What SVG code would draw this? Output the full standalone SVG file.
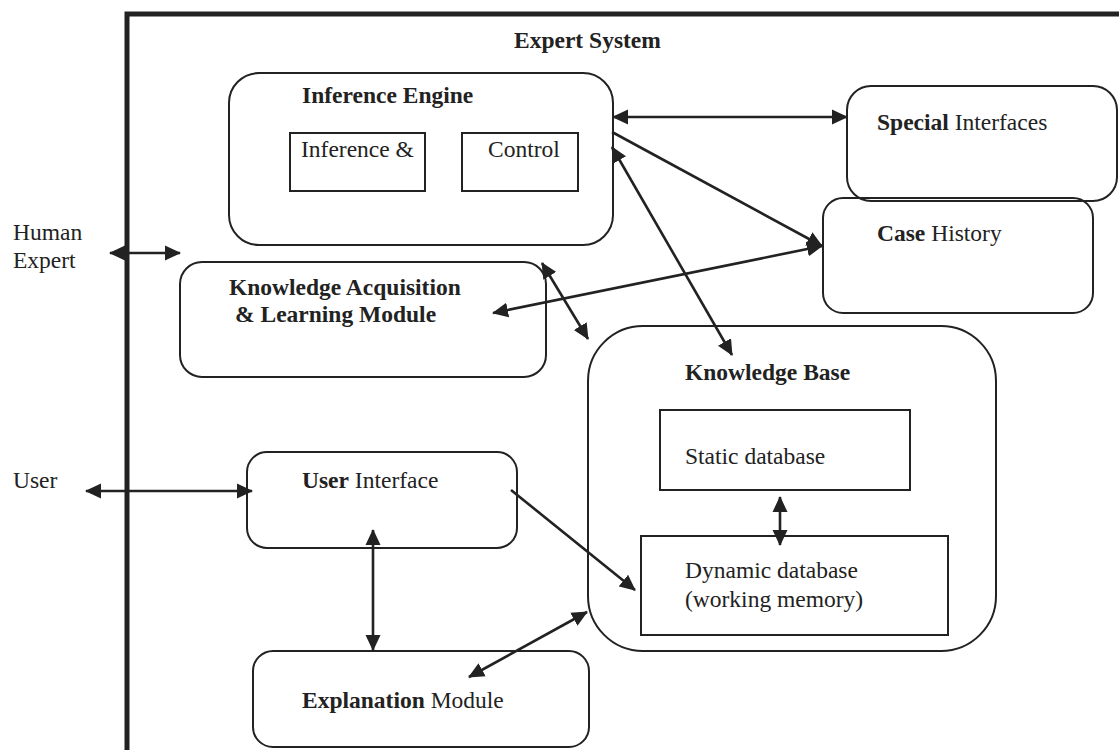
<svg xmlns="http://www.w3.org/2000/svg" width="1119" height="750" viewBox="0 0 1119 750">
<style>
text{font-family:"Liberation Serif","Times New Roman",serif;font-size:23.5px;fill:#222}
.b{font-weight:bold}
.box{fill:none;stroke:#222;stroke-width:2}
.con line{stroke:#222;stroke-width:2.6}
.frame{stroke:#222;stroke-width:5;fill:none}
</style>
<defs>
<marker id="ah" markerUnits="userSpaceOnUse" markerWidth="16" markerHeight="16" refX="15" refY="8" orient="auto-start-reverse" viewBox="0 0 16 16">
<path d="M0,0.5 L16,8 L0,15.5 z" fill="#222"/>
</marker>
</defs>
<rect width="1119" height="750" fill="#fff"/>
<g id="frame">
<path class="frame" d="M127,750 V14 H1119"/>
<text x="514" y="48" class="b">Expert System</text>
</g>
<g id="human-expert"><text x="13" y="240">Human</text><text x="13" y="268">Expert</text></g>
<g id="user"><text x="13" y="488">User</text></g>
<g id="inference-engine">
<rect class="box" x="229" y="73" width="384" height="172" rx="30"/>
<text x="302" y="103" class="b">Inference Engine</text>
<rect class="box" x="290" y="133" width="135" height="58"/>
<text x="301" y="157">Inference &amp;</text>
<rect class="box" x="462" y="133" width="116" height="58"/>
<text x="488" y="157">Control</text>
</g>
<g id="special-interfaces">
<rect class="box" x="847" y="86" width="270" height="115" rx="24"/>
<text x="877" y="130"><tspan class="b">Special</tspan> Interfaces</text>
</g>
<g id="case-history">
<rect class="box" x="823" y="198" width="270" height="115" rx="20"/>
<text x="877" y="241"><tspan class="b">Case</tspan> History</text>
</g>
<g id="knowledge-acquisition">
<rect class="box" x="180" y="262" width="366" height="115" rx="22"/>
<text x="229" y="295" class="b">Knowledge Acquisition</text>
<text x="235" y="322" class="b">&amp; Learning Module</text>
</g>
<g id="knowledge-base">
<rect class="box" x="588" y="326" width="408" height="325" rx="55"/>
<text x="685" y="380" class="b">Knowledge Base</text>
<rect class="box" x="660" y="410" width="250" height="80"/>
<text x="685" y="464">Static database</text>
<rect class="box" x="641" y="536" width="307" height="99"/>
<text x="685" y="578">Dynamic database</text>
<text x="685" y="607">(working memory)</text>
</g>
<g id="user-interface">
<rect class="box" x="247" y="452" width="270" height="96" rx="20"/>
<text x="302" y="488"><tspan class="b">User</tspan> Interface</text>
</g>
<g id="explanation-module">
<rect class="box" x="253" y="651" width="336" height="96" rx="20"/>
<text x="302" y="708"><tspan class="b">Explanation</tspan> Module</text>
</g>
<g id="connectors" class="con">
<line x1="110" y1="253" x2="180" y2="253" marker-start="url(#ah)" marker-end="url(#ah)"/>
<line x1="86" y1="491" x2="252" y2="491" marker-start="url(#ah)" marker-end="url(#ah)"/>
<line x1="613" y1="117" x2="847" y2="117" marker-start="url(#ah)" marker-end="url(#ah)"/>
<line x1="612" y1="132" x2="822" y2="246" marker-end="url(#ah)"/>
<line x1="822" y1="246" x2="493" y2="313" marker-start="url(#ah)" marker-end="url(#ah)"/>
<line x1="612" y1="147" x2="732" y2="355" marker-start="url(#ah)" marker-end="url(#ah)"/>
<line x1="542" y1="263" x2="588" y2="339" marker-start="url(#ah)" marker-end="url(#ah)"/>
<line x1="373" y1="530" x2="373" y2="650" marker-start="url(#ah)" marker-end="url(#ah)"/>
<line x1="511" y1="490" x2="635" y2="590" marker-end="url(#ah)"/>
<line x1="469" y1="677" x2="587" y2="612" marker-start="url(#ah)" marker-end="url(#ah)"/>
<line x1="780" y1="497" x2="780" y2="545" marker-start="url(#ah)" marker-end="url(#ah)"/>
</g>
</svg>
